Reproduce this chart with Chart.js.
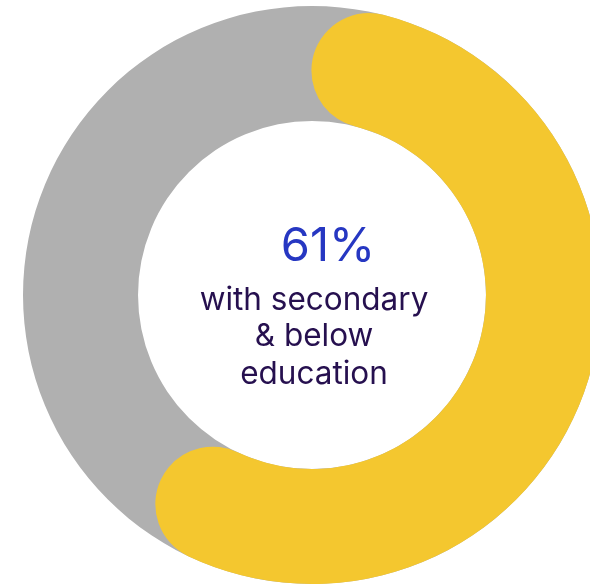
<!DOCTYPE html>
<html>
<head>
<meta charset="utf-8">
<script src="https://cdn.jsdelivr.net/npm/chart.js@4.4.1/dist/chart.umd.min.js"></script>
<style>
  html, body { margin: 0; padding: 0; background: #ffffff; overflow: hidden; width: 590px; height: 586px; }
  #wrap { position: absolute; left: 0; top: 0; width: 624px; height: 590px; }
</style>
</head>
<body>
<div id="wrap"><canvas id="ring" width="624" height="590"></canvas></div>
<script>
// Share of people with secondary education or below
const segmentLabels = ['Secondary & below', 'Other'];
const shareValues = [61, 39];
const headline = shareValues[0] + '%';
const captionLines = ['with secondary', '& below', 'education'];

const trackColor = '#b0b0b0';
const fillColor = '#f4c72f';

// Full grey track underneath the progress arc
const trackRing = {
  id: 'trackRing',
  beforeDatasetsDraw(chart) {
    const arc = chart.getDatasetMeta(0).data[0];
    if (!arc) return;
    const { x, y, innerRadius, outerRadius } = arc.getProps(['x', 'y', 'innerRadius', 'outerRadius'], true);
    const ctx = chart.ctx;
    ctx.save();
    ctx.beginPath();
    ctx.arc(x, y, outerRadius, 0, Math.PI * 2);
    ctx.arc(x, y, innerRadius, 0, Math.PI * 2, true);
    ctx.closePath();
    ctx.fillStyle = trackColor;
    ctx.fill();
    ctx.restore();
  }
};

// Headline figure and caption in the hole
const centerText = {
  id: 'centerText',
  afterDraw(chart) {
    const arc = chart.getDatasetMeta(0).data[0];
    if (!arc) return;
    const { x, y } = arc.getProps(['x', 'y'], true);
    const ctx = chart.ctx;
    ctx.save();
    ctx.textAlign = 'center';
    ctx.textBaseline = 'alphabetic';
    ctx.fillStyle = '#2637c2';
    ctx.font = '400 47px Inter, "Noto Sans", sans-serif';
    ctx.fillText(headline, x + 16, y - 34);
    ctx.fillStyle = '#26104f';
    ctx.font = '400 31.5px Inter, "Noto Sans", sans-serif';
    const baselines = [15, 51, 89];
    captionLines.forEach((line, i) => ctx.fillText(line, x + 2, y + baselines[i]));
    ctx.restore();
  }
};

new Chart(document.getElementById('ring'), {
  type: 'doughnut',
  data: {
    labels: segmentLabels,
    datasets: [{
      data: shareValues,
      backgroundColor: [fillColor, 'rgba(0,0,0,0)'],
      borderWidth: 0,
      borderRadius: [100, 0]
    }]
  },
  options: {
    responsive: false,
    animation: false,
    events: [],
    cutout: '60.2%',
    rotation: 0,
    layout: { padding: 6 },
    plugins: {
      legend: { display: false },
      tooltip: { enabled: false }
    }
  },
  plugins: [trackRing, centerText]
});
</script>
</body>
</html>
